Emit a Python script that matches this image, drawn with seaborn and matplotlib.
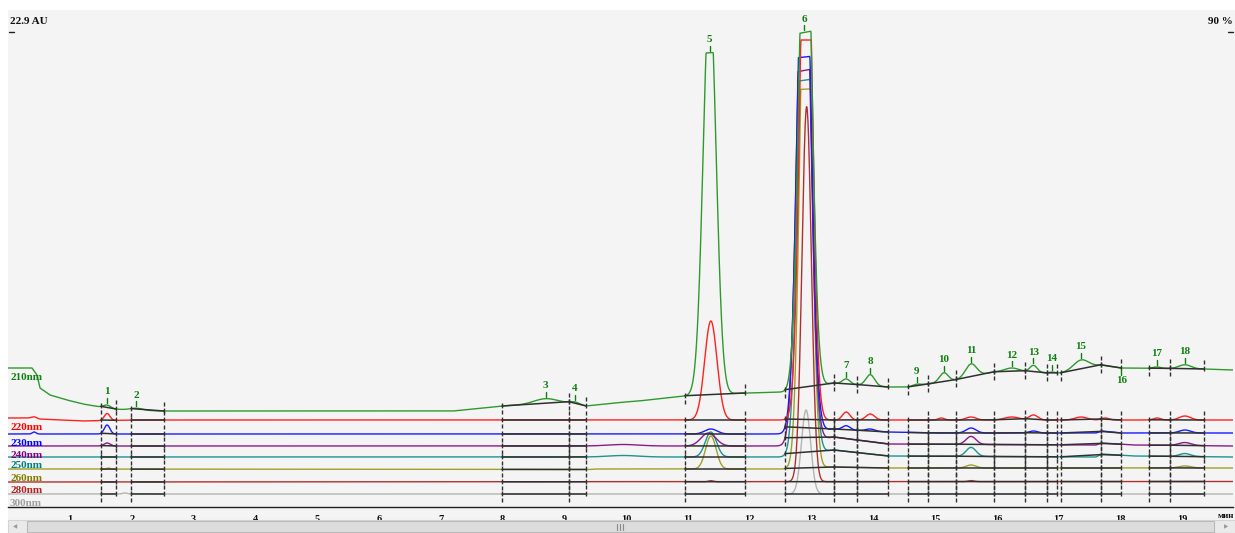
import numpy as np
import pandas as pd
import matplotlib
matplotlib.use("Agg")
import matplotlib.pyplot as plt
import seaborn as sns
from matplotlib.patches import Rectangle
from matplotlib.lines import Line2D

sns.set_style("white")
plt.rcParams["font.family"] = ["Liberation Serif", "DejaVu Serif"]

W, H = 1235, 533

# ---------------------------------------------------------------- data
channels = ["210nm", "220nm", "230nm", "240nm", "250nm", "260nm", "280nm", "300nm"]
line_colors = ["#2e9a2e", "#ff2020", "#1a1aff", "#8b1a8b", "#1a9494",
               "#a0a028", "#b03030", "#b4b4b4"]
label_colors = ["#108010", "#ff0000", "#0000ff", "#800080", "#008080",
                "#808000", "#b22222", "#a0a0a0"]

t_end = 19.82   # minutes shown
x_ticks = list(range(1, 20))

# baseline drift of each channel: (minutes, signal)
baseline_210 = [(0, 139), (0.385, 139), (0.466, 132), (0.515, 119), (0.676, 112),
                (0.95, 107), (1.21, 103), (1.49, 100), (1.70, 98), (1.97, 97),
                (2.5, 96), (7.2, 96), (7.99, 101), (8.5, 103), (9.07, 104),
                (9.35, 101), (9.8, 104), (10.2, 106), (10.95, 111), (11.92, 114),
                (12.57, 115), (13.36, 124), (14.24, 120), (14.56, 120), (14.88, 123),
                (15.34, 127), (15.95, 135), (16.45, 135), (16.81, 134), (17.03, 134),
                (17.68, 142), (18.01, 139), (19.35, 138), (19.82, 137)]
baseline_220 = [(0, 89), (0.38, 89), (0.5, 88), (1.2, 86), (2.0, 87), (19.82, 87)]
baseline_230 = [(0, 73), (12.57, 73), (13.36, 78), (14.24, 75), (15.0, 74),
                (17.6, 74), (17.7, 76), (18.0, 74), (19.82, 74)]
baseline_240 = [(0, 61), (12.57, 61), (13.36, 70), (14.24, 63), (17.6, 62),
                (17.7, 64), (18.2, 62), (19.82, 61)]
baseline_250 = [(0, 50), (12.57, 50), (13.36, 57), (14.24, 51), (17.6, 50),
                (17.7, 53), (18.2, 51), (19.82, 50)]
baseline_260 = [(0, 38), (9.4, 37.5), (9.5, 38), (12.57, 38), (13.36, 40),
                (14.2, 39), (19.82, 39)]
baseline_280 = [(0, 25), (19.82, 25.5)]
baseline_300 = [(0, 13), (19.82, 13)]

# peaks of each channel: (retention time, height, sigma, detector cap)
peaks_210 = [(1.60, 3, 0.06, None), (2.07, 2, 0.10, None), (8.70, 5, 0.18, None),
             (9.17, 2, 0.07, None), (11.35, 400, 0.105, 342), (12.90, 534, 0.10, 356),
             (13.56, 5, 0.06, None), (13.95, 11, 0.07, None), (14.70, 1.5, 0.06, None),
             (15.14, 9, 0.07, None), (15.58, 13, 0.09, None), (16.24, 4, 0.12, None),
             (16.59, 7, 0.06, None), (16.89, 1, 0.04, None), (17.36, 9, 0.12, None),
             (18.59, 1.5, 0.06, None), (19.04, 4, 0.10, None)]
peaks_220 = [(0.42, 1.5, 0.04, None), (1.60, 7, 0.045, None), (11.37, 99, 0.10, None),
             (12.91, 570, 0.095, 380), (13.56, 8, 0.06, None), (13.95, 6, 0.07, None),
             (15.10, 2, 0.05, None), (15.58, 3, 0.08, None), (16.24, 3, 0.12, None),
             (16.59, 5, 0.07, None), (17.36, 3, 0.10, None), (17.75, 2, 0.06, None),
             (18.59, 2, 0.06, None), (19.04, 4, 0.09, None)]
peaks_230 = [(0.42, 2, 0.03, None), (1.60, 9, 0.045, None), (11.37, 5, 0.10, None),
             (12.88, 560, 0.105, 375), (13.56, 4, 0.06, None), (13.95, 2, 0.07, None),
             (15.58, 5, 0.08, None), (16.59, 2, 0.07, None), (19.04, 3, 0.09, None)]
peaks_240 = [(1.60, 3, 0.05, None), (9.95, 1.5, 0.25, None), (11.33, 13, 0.12, None),
             (12.875, 560, 0.105, 372), (15.58, 8, 0.08, None), (19.04, 3, 0.10, None)]
peaks_250 = [(9.95, 1.5, 0.25, None), (11.37, 25, 0.09, None), (12.89, 560, 0.10, 374),
             (15.58, 9, 0.08, None), (19.04, 3, 0.09, None)]
peaks_260 = [(1.62, 1, 0.03, None), (11.37, 33, 0.085, None), (12.905, 570, 0.09, 379),
             (15.58, 3, 0.08, None), (19.04, 2, 0.10, None)]
peaks_280 = [(11.37, 1, 0.04, None), (12.92, 375, 0.075, None), (15.58, 1, 0.05, None)]
peaks_300 = [(1.89, 1, 0.04, None), (12.91, 84, 0.075, None)]

baselines = [baseline_210, baseline_220, baseline_230, baseline_240,
             baseline_250, baseline_260, baseline_280, baseline_300]
peak_tables = [peaks_210, peaks_220, peaks_230, peaks_240,
               peaks_250, peaks_260, peaks_280, peaks_300]

# integration windows (start, end) in minutes
windows = [(1.50, 1.74), (1.99, 2.52), (7.99, 9.07), (9.07, 9.35), (10.95, 11.92),
           (12.57, 13.36), (13.36, 13.74), (13.74, 14.24), (14.56, 14.88),
           (14.88, 15.34), (15.34, 15.95), (15.95, 16.45), (16.45, 16.81),
           (16.81, 16.97), (17.03, 17.68), (17.68, 18.01), (18.46, 18.80),
           (18.80, 19.35)]

# numbered peaks on the 210 nm trace
peak_ids = list(range(1, 19))
peak_rts = [1.60, 2.07, 8.70, 9.17, 11.35, 12.88, 13.56, 13.95, 14.70, 15.14,
            15.58, 16.24, 16.59, 16.89, 17.36, 18.01, 18.59, 19.04]
labels_below = [16]

# ---------------------------------------------------------------- traces
t = np.linspace(0, t_end, 4000)


def build_trace(knots, peaks):
    kt, kv = zip(*knots)
    y = np.interp(t, kt, kv)
    for rt, h, s, cap in peaks:
        g = h * np.exp(-0.5 * ((t - rt) / s) ** 2)
        if cap is not None:
            g = np.minimum(g, cap)
        y = y + g
    return y


traces = {ch: build_trace(b, p) for ch, b, p in zip(channels, baselines, peak_tables)}
df = pd.concat([pd.DataFrame({"time": t, "signal": traces[ch], "channel": ch})
                for ch in channels], ignore_index=True)

# ---------------------------------------------------------------- figure
fig = plt.figure(figsize=(W / 100, H / 100), dpi=100)
fig.patch.set_facecolor("white")

fig.add_artist(Rectangle((8 / W, 1 - 520 / H), (W - 8) / W, 510 / H,
                         transform=fig.transFigure, facecolor="#f4f4f4",
                         edgecolor="none", zorder=0))

ax = fig.add_axes([8.2 / W, 26 / H, 61.8 * t_end / W, 497 / H])
ax.set_facecolor("none")

palette = dict(zip(channels, line_colors))
sns.lineplot(data=df, x="time", y="signal", hue="channel", hue_order=channels[::-1],
             palette=palette, estimator=None, legend=False, linewidth=1.0, ax=ax)

ax.set_xlim(0, t_end)
ax.set_ylim(0, 497)
ax.set_xlabel("")
ax.set_ylabel("")
for side in ["top", "left", "right"]:
    ax.spines[side].set_visible(False)
ax.spines["bottom"].set_color("#202020")
ax.spines["bottom"].set_linewidth(1.0)
ax.set_yticks([])
ax.set_xticks(x_ticks)
ax.set_xticklabels([str(v) for v in x_ticks], fontsize=7.5, fontweight="bold")
ax.tick_params(axis="x", direction="out", length=4, width=1, color="#202020",
               pad=2, labelcolor="#101010")


def value_at(ch, x):
    return float(np.interp(x, t, traces[ch]))


# integration baselines and window marks
mark = "#303030"
for ch in channels:
    for s, e in windows:
        ys, ye = value_at(ch, s), value_at(ch, e)
        ax.plot([s, e], [ys, ye], color=mark, lw=1.1, zorder=5)
        ax.plot([s, s], [ys + 3, ys - 8], color=mark, lw=1.0,
                ls=(0, (3.5, 1.5)), zorder=6)
        ax.plot([e, e], [ye - 2, ye + 9], color=mark, lw=1.0,
                ls=(0, (3.5, 1.5)), zorder=6)

# channel names
for ch, col in zip(channels, label_colors):
    ax.text(0.03, value_at(ch, 0.05) - 9, ch, color=col, fontsize=8,
            fontweight="bold", ha="left", va="center", zorder=7)

# peak numbers on the 210 nm trace
ref = traces["210nm"]
for pid, rt in zip(peak_ids, peak_rts):
    if pid in labels_below:
        yv = value_at("210nm", rt)
        ax.plot([rt, rt], [yv - 2, yv - 7], color="#108010", lw=1.0, zorder=7)
        ax.text(rt, yv - 13, str(pid), color="#108010", fontsize=8,
                fontweight="bold", ha="center", va="center", zorder=7)
    else:
        m = (t > rt - 0.04) & (t < rt + 0.04)
        top = float(ref[m].max())
        ax.plot([rt, rt], [top + 2, top + 7], color="#108010", lw=1.0, zorder=7)
        ax.text(rt, top + 13, str(pid), color="#108010", fontsize=8,
                fontweight="bold", ha="center", va="center", zorder=7)

# scale captions
fig.text(10 / W, 1 - 21 / H, "22.9 AU", fontsize=8, fontweight="bold",
         ha="left", va="center", color="#101010")
fig.text(1233 / W, 1 - 21 / H, "90 %", fontsize=8, fontweight="bold",
         ha="right", va="center", color="#101010")
fig.add_artist(Line2D([9 / W, 14 / W], [1 - 32 / H, 1 - 32 / H],
                      color="#202020", lw=1))
fig.add_artist(Line2D([1228 / W, 1233 / W], [1 - 32 / H, 1 - 32 / H],
                      color="#202020", lw=1))
fig.text(1226 / W, 1 - 516 / H, "мин", fontsize=6.5, fontweight="bold",
         ha="center", va="center", color="#101010")

# horizontal scroll bar
fig.add_artist(Rectangle((8 / W, 0), (W - 8) / W, 13 / H, transform=fig.transFigure,
                         facecolor="#eaeaea", edgecolor="#d4d4d4", lw=0.8, zorder=1))
fig.add_artist(Rectangle((27 / W, 1 / H), (1214 - 27) / W, 11 / H,
                         transform=fig.transFigure, facecolor="#dcdcdc",
                         edgecolor="#b9b9b9", lw=0.8, zorder=2))
for gx in (617, 620, 623):
    fig.add_artist(Line2D([gx / W, gx / W], [3.5 / H, 9.5 / H], color="#8a8a8a",
                          lw=0.8, zorder=3))
fig.text(15 / W, 6.5 / H, "◀", fontsize=4, color="#9a9a9a", ha="center",
         va="center", family=["DejaVu Sans"])
fig.text(1226 / W, 6.5 / H, "▶", fontsize=4, color="#9a9a9a", ha="center",
         va="center", family=["DejaVu Sans"])

fig.savefig("out.png", dpi=100, facecolor=fig.get_facecolor())
